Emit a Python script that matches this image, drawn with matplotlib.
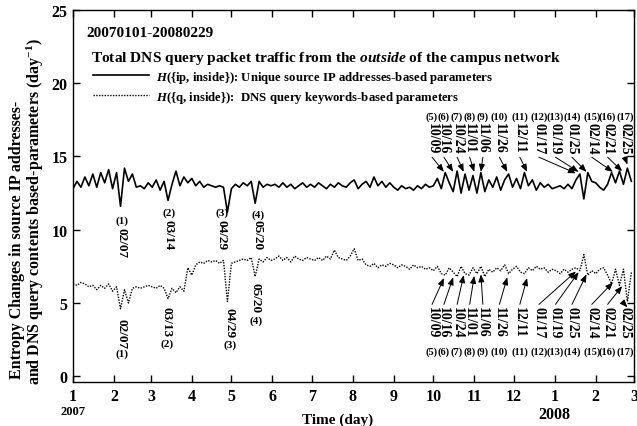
import numpy as np
import matplotlib
matplotlib.use("Agg")
import matplotlib.pyplot as plt

plt.rcParams['font.family'] = ['Liberation Serif', 'DejaVu Serif']
plt.rcParams['font.weight'] = 'bold'
plt.rcParams['axes.labelweight'] = 'bold'
plt.rcParams['mathtext.fontset'] = 'custom'
plt.rcParams['mathtext.rm'] = 'Liberation Serif:bold'
plt.rcParams['mathtext.it'] = 'Liberation Serif:bold:italic'
plt.rcParams['mathtext.bf'] = 'Liberation Serif:bold'

# period 2007-01-01 .. 2008-02-29, one reading every 3 days
start = np.datetime64('2007-01-01')
sample_days = np.arange(0, 425, 3)

# H({ip, inside}) - unique source IP addresses
ip_vals = [
    12.8, 13.3, 12.9, 13.6, 13.0, 13.8, 12.9, 13.9, 13.2, 14.1, 12.8,   # jan
    13.9, 11.6, 14.2, 13.3, 13.8, 12.9, 13.0, 12.8, 13.2,               # feb
    12.9, 13.4, 12.7, 13.3, 12.0, 13.1, 14.0, 13.0, 13.6, 13.2,         # mar
    13.5, 13.0, 13.3, 12.9, 13.1, 13.0, 12.9, 13.0, 12.9, 11.2,         # apr
    12.8, 13.1, 12.9, 13.2, 13.0, 13.3, 11.8, 13.3, 12.9, 13.1, 13.0,   # may
    13.1, 12.9, 13.2, 12.9, 13.1, 12.8, 13.0, 13.2, 12.9, 13.1,         # jun
    12.9, 13.2, 13.0, 12.8, 13.1, 12.9, 13.2, 13.0, 12.9, 13.2,         # jul
    13.4, 12.8, 13.1, 13.3, 12.9, 13.6, 13.0, 13.3, 12.9, 13.2,         # aug
    12.9, 12.7, 13.0, 12.8, 12.9, 12.7, 13.0, 12.8, 13.1, 12.9,         # sep
    13.0, 13.5, 12.8, 13.9, 13.2, 12.6, 14.0, 12.5, 13.8, 12.7, 13.7,   # oct
    12.5, 13.9, 12.6, 13.4, 12.9, 13.6, 12.7, 13.4, 13.8, 12.9,         # nov
    13.5, 12.8, 13.9, 13.0, 13.4, 12.7, 13.2, 12.9, 13.1, 12.8,         # dec
    12.9, 13.0, 12.8, 13.1, 12.8, 13.4, 13.8, 12.1, 13.9, 13.3,         # jan 08
    13.2, 12.9, 12.7, 13.1, 13.9, 13.2, 14.0, 13.1, 14.2, 13.3,         # feb 08
]

# H({q, inside}) - DNS query keywords
q_vals = [
    6.3, 6.2, 6.4, 6.3, 6.1, 6.2, 5.9, 6.2, 6.0, 6.3, 5.8,
    6.1, 4.6, 5.9, 5.0, 6.0, 6.1, 6.0, 6.1, 6.2,
    6.1, 6.0, 6.2, 6.0, 5.3, 6.0, 5.7, 6.1, 5.8, 7.4,
    6.9, 7.6, 7.8, 7.7, 7.9, 7.8, 7.9, 7.7, 7.9, 5.1,
    7.7, 7.8, 7.9, 8.0, 7.9, 8.1, 6.8, 8.0, 7.8, 8.1, 7.9,
    8.0, 8.2, 7.9, 8.1, 7.8, 8.2, 8.0, 7.9, 8.1, 8.0,
    7.9, 8.1, 7.9, 8.2, 8.0, 8.6, 8.1, 8.0, 7.9, 8.2,
    8.7, 7.9, 8.0, 7.6, 7.5, 7.7, 7.4, 7.6, 7.5, 7.7,
    7.6, 7.4, 7.6, 7.5, 7.3, 7.6, 7.4, 7.5, 7.3, 7.4,
    7.2, 7.5, 7.0, 6.9, 7.4, 7.1, 6.8, 7.5, 7.0, 6.9, 7.4,
    7.0, 7.5, 6.8, 7.3, 7.1, 7.4, 7.2, 7.6, 7.0, 7.3,
    7.5, 7.1, 7.0, 7.4, 7.2, 7.5, 7.3, 7.4, 7.1, 7.3,
    7.2, 7.0, 7.3, 7.1, 7.3, 7.4, 7.2, 8.3, 6.9, 7.2,
    7.0, 7.3, 7.4, 6.9, 6.3, 7.3, 6.2, 7.3, 5.1, 7.1,
]

# events (5)..(17), marked on both curves
late_dates = ['2007-10-09', '2007-10-16', '2007-10-24', '2007-11-01', '2007-11-06',
              '2007-11-26', '2007-12-11', '2008-01-17', '2008-01-19', '2008-01-25',
              '2008-02-14', '2008-02-21', '2008-02-25']
late_ip_tip = [13.95, 13.95, 13.95, 13.95, 13.95, 13.95, 13.95, 13.85, 13.95, 13.95,
               13.95, 14.0, 14.45]
late_q_tip = [6.7, 6.75, 6.9, 6.85, 6.95, 6.75, 6.7, 7.15, 7.1, 6.95, 6.4, 6.15, 4.7]

# events (1)..(4)
early_ip_labels = ['02/07', '03/14', '04/29', '05/20']
early_q_labels = ['02/07', '03/13', '04/29', '05/20']

# layout of the label columns (days from 2007-01-01)
late_cols = [272, 281, 291, 300.5, 310.5, 323, 338.5, 353, 365.5, 378, 393, 405, 418]
early_ip_pos = [(37.1, 10.66, 10.18), (72.7, 11.2, 10.72), (112.6, 11.2, 10.72), (140, 11.07, 10.72)]
early_q_pos = [(37.1, 1.6, 3.95), (71.2, 2.25, 4.8), (118.9, 2.2, 4.75), (138.6, 3.85, 6.45)]

def day_of(d):
    return (np.datetime64(d) - start).astype(int)

fig = plt.figure(figsize=(6.37, 4.27), dpi=100)
ax = fig.add_axes([0.1146, 0.103, 0.8807, 0.8712])

ax.plot(sample_days, ip_vals, color='black', lw=1.2, ls='-',
        label=r'$H$({ip, inside}): Unique source IP addresses-based parameters')
ax.plot(sample_days, q_vals, color='black', lw=1.0, ls=(0, (1, 1)),
        label=r'$H$({q, inside}):  DNS query keywords-based parameters')

ax.set_xlim(0, 425)
ax.set_ylim(-0.4, 25)

months = np.arange(np.datetime64('2007-01'), np.datetime64('2008-04'))
month_days = [(m.astype('datetime64[D]') - start).astype(int) for m in months]
ax.set_xticks(month_days)
ax.set_xticklabels([str(m.astype(object).month) for m in months])
ax.set_yticks([0, 5, 10, 15, 20, 25])
ax.tick_params(direction='in', top=True, right=True, length=5, width=1,
               labelsize=11.5, pad=4)
for t in ax.get_xticklabels() + ax.get_yticklabels():
    t.set_fontweight('bold')
for s in ax.spines.values():
    s.set_linewidth(1)

xt = ax.get_xaxis_transform()
ax.text(0, -0.078, '2007', transform=xt, ha='center', va='center', fontsize=9,
        fontweight='bold')
ax.text(month_days[12], -0.086, '2008', transform=xt, ha='center', va='center',
        fontsize=11.5, fontweight='bold')

ax.set_xlabel('Time (day)', fontsize=11, fontweight='bold')
ax.xaxis.set_label_coords(0.472, -0.082)

fig.text(17 / 637, 1 - 240 / 427, 'Entropy Changes in source IP addresses-',
         rotation=90, ha='center', va='center', fontsize=11.5, fontweight='bold')
fig.text(35 / 637, 1 - 212 / 427, 'and DNS query contents based-parameters (day$^{-1}$)',
         rotation=90, ha='center', va='center', fontsize=11.5, fontweight='bold')

ax.text(0.023, 0.930, '20070101-20080229', transform=ax.transAxes, fontsize=11,
        va='baseline', fontweight='bold')
ax.text(0.032, 0.863, r'Total DNS query packet traffic from the $\mathit{outside}$ of the campus network',
        transform=ax.transAxes, fontsize=11.1, va='baseline', fontweight='bold')

leg = ax.legend(loc='upper left', bbox_to_anchor=(0.0357, 0.842), frameon=False,
                prop={'size': 9.2, 'weight': 'bold'}, handlelength=4.4,
                handletextpad=0.55, labelspacing=0.3, borderpad=0, borderaxespad=0)

arrow = dict(arrowstyle='-|>,head_length=0.45,head_width=0.18', lw=0.7,
             color='black', shrinkA=0, shrinkB=0)

# (1)..(4)
for k, (lab, (x, yn, yt)) in enumerate(zip(early_ip_labels, early_ip_pos)):
    ax.text(x, yn, '(%d)' % (k + 1), ha='center', va='center', fontsize=8, fontweight='bold')
    ax.text(x, yt, lab, rotation=270, ha='center', va='top', fontsize=9.5, fontweight='bold')
for k, (lab, (x, yn, yt)) in enumerate(zip(early_q_labels, early_q_pos)):
    ax.text(x, yn, '(%d)' % (k + 1), ha='center', va='center', fontsize=8, fontweight='bold')
    ax.text(x, yt, lab, rotation=270, ha='center', va='top', fontsize=9.5, fontweight='bold')

# (5)..(17)
for k, d in enumerate(late_dates):
    lab = d[5:7] + '/' + d[8:10]
    col = late_cols[k]
    ev = day_of(d)
    ax.text(col, 17.76, '(%d)' % (k + 5), ha='center', va='center', fontsize=7.5,
            fontweight='bold')
    ax.text(col, 17.35, lab, rotation=270, ha='center', va='top', fontsize=10,
            fontweight='bold')
    ax.annotate('', xy=(ev, late_ip_tip[k]), xytext=(col, 14.95), arrowprops=arrow)
    ax.text(col, 1.71, '(%d)' % (k + 5), ha='center', va='center', fontsize=7.5,
            fontweight='bold')
    ax.text(col, 4.78, lab, rotation=270, ha='center', va='top', fontsize=10,
            fontweight='bold')
    ax.annotate('', xy=(ev, late_q_tip[k]), xytext=(col, 4.9), arrowprops=arrow)

fig.savefig('out.png', dpi=100)
